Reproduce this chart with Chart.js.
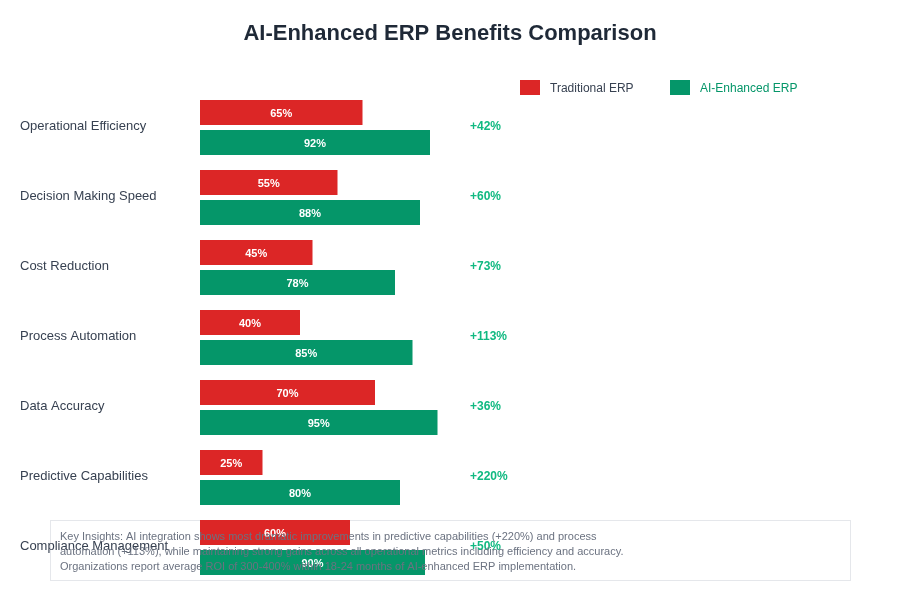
<!DOCTYPE html>
<html>
<head>
<meta charset="utf-8">
<script src="https://cdn.jsdelivr.net/npm/chart.js@4.4.0/dist/chart.umd.min.js"></script>
<style>
  html, body { margin: 0; padding: 0; background: #ffffff; }
  #wrap { width: 900px; height: 600px; position: relative; }
</style>
</head>
<body>
<div id="wrap"><canvas id="grafico" width="900" height="600"></canvas></div>
<script>
const categorias = ['Operational Efficiency', 'Decision Making Speed', 'Cost Reduction', 'Process Automation', 'Data Accuracy', 'Predictive Capabilities', 'Compliance Management'];
const tradicional = [65, 55, 45, 40, 70, 25, 60];
const comIA = [92, 88, 78, 85, 95, 80, 90];
const melhorias = ['+42%', '+60%', '+73%', '+113%', '+36%', '+220%', '+50%'];
const insights = [
    'Key Insights: AI integration shows most dramatic improvements in predictive capabilities (+220%) and process',
    'automation (+113%), while maintaining strong gains across all operational metrics including efficiency and accuracy.',
    'Organizations report average ROI of 300-400% within 18-24 months of AI-enhanced ERP implementation.'
];

const vermelho = '#dc2626';
const verde = '#059669';
const fonte = '"Liberation Sans", Arial, sans-serif';

// caixa de insights (fundo antes das barras, texto depois)
const caixaFundo = {
    id: 'caixaFundo',
    beforeDatasetsDraw(chart) {
        const ctx = chart.ctx;
        ctx.save();
        ctx.fillStyle = '#ffffff';
        ctx.fillRect(50, 520, 800, 60);
        ctx.strokeStyle = '#e5e7eb';
        ctx.lineWidth = 1;
        ctx.strokeRect(50.5, 520.5, 800, 60);
        ctx.restore();
    }
};

const extras = {
    id: 'extras',
    afterDraw(chart) {
        const ctx = chart.ctx;
        const y = chart.scales.y;
        const x = chart.scales.x;
        ctx.save();

        // titulo
        ctx.fillStyle = '#1f2937';
        ctx.font = 'bold 22px ' + fonte;
        ctx.textAlign = 'center';
        ctx.textBaseline = 'middle';
        ctx.fillText('AI-Enhanced ERP Benefits Comparison', 450, 34);

        // legenda
        ctx.font = '12px ' + fonte;
        ctx.textAlign = 'left';
        ctx.fillStyle = vermelho;
        ctx.fillRect(520, 80, 20, 15);
        ctx.fillStyle = '#374151';
        ctx.fillText('Traditional ERP', 550, 89);
        ctx.fillStyle = verde;
        ctx.fillRect(670, 80, 20, 15);
        ctx.fillText('AI-Enhanced ERP', 700, 89);

        // rotulos das categorias e melhorias
        categorias.forEach((cat, i) => {
            const cy = y.getPixelForValue(i) - 1;
            ctx.font = '13px ' + fonte;
            ctx.fillStyle = '#374151';
            ctx.textAlign = 'left';
            ctx.fillText(cat, 20, cy);
            ctx.font = 'bold 12px ' + fonte;
            ctx.fillStyle = '#10b981';
            ctx.fillText(melhorias[i], 470, cy);
        });

        // valores dentro das barras
        ctx.font = 'bold 11px ' + fonte;
        ctx.fillStyle = '#ffffff';
        ctx.textAlign = 'center';
        chart.data.datasets.forEach((ds, d) => {
            chart.getDatasetMeta(d).data.forEach((bar, i) => {
                const cx = (x.getPixelForValue(0) + bar.x) / 2;
                ctx.fillText(ds.data[i] + '%', cx, bar.y + 1);
            });
        });

        // texto dos insights
        ctx.font = '11px ' + fonte;
        ctx.fillStyle = '#6b7280';
        ctx.textAlign = 'left';
        insights.forEach((linha, i) => {
            ctx.fillText(linha, 60, 537 + i * 15);
        });
        ctx.restore();
    }
};

const grafico = new Chart(document.getElementById('grafico').getContext('2d'), {
    type: 'bar',
    data: {
        labels: categorias,
        datasets: [{
            label: 'Traditional ERP',
            data: tradicional,
            backgroundColor: vermelho,
            categoryPercentage: 60 / 70,
            barPercentage: 25 / 30
        }, {
            label: 'AI-Enhanced ERP',
            data: comIA,
            backgroundColor: verde,
            categoryPercentage: 60 / 70,
            barPercentage: 25 / 30
        }]
    },
    options: {
        indexAxis: 'y',
        responsive: false,
        animation: false,
        layout: {
            padding: { left: 200, right: 450, top: 92.5, bottom: 17.5 }
        },
        scales: {
            x: { display: false, min: 0, max: 100 },
            y: { display: false }
        },
        plugins: {
            legend: { display: false },
            title: { display: false },
            tooltip: { enabled: false }
        }
    },
    plugins: [caixaFundo, extras]
});
</script>
</body>
</html>
